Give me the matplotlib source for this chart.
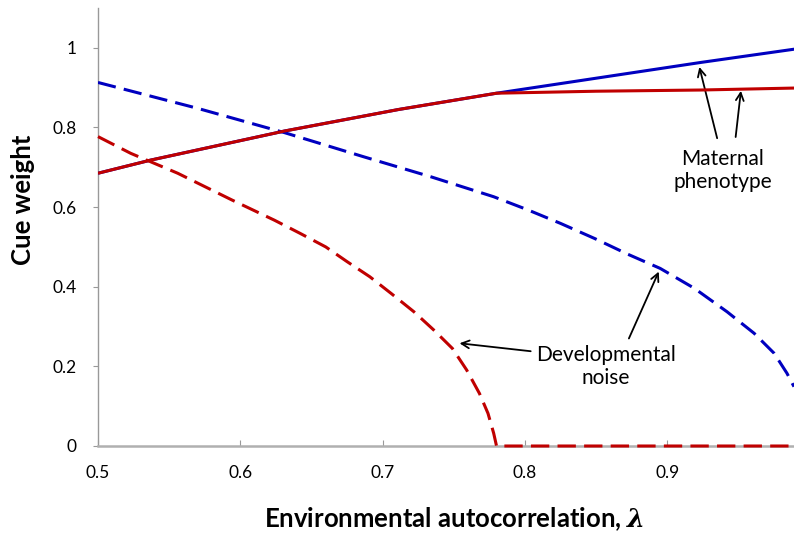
import matplotlib
matplotlib.use("Agg")
import matplotlib.pyplot as plt

plt.rcParams['font.family'] = ['Lato', 'DejaVu Sans']
plt.rcParams['mathtext.fontset'] = 'custom'
plt.rcParams['mathtext.it'] = 'DejaVu Serif:italic:bold'
plt.rcParams['mathtext.rm'] = 'Lato'

# Maternal phenotype cue weight (solid lines)
lam_mat_blue = [0.50, 0.537, 0.631, 0.711, 0.780, 0.923, 0.990]
w_mat_blue = [0.685, 0.718, 0.791, 0.845, 0.886, 0.963, 0.997]
lam_mat_red = [0.50, 0.537, 0.631, 0.711, 0.780, 0.850, 0.923, 0.990]
w_mat_red = [0.685, 0.718, 0.791, 0.845, 0.886, 0.891, 0.894, 0.899]

# Developmental noise cue weight (dashed lines)
lam_dev_blue = [0.50, 0.570, 0.631, 0.687, 0.734, 0.778, 0.802, 0.825, 0.849, 0.872,
                0.895, 0.919, 0.942, 0.961, 0.975, 0.984, 0.989]
w_dev_blue = [0.913, 0.848, 0.787, 0.726, 0.676, 0.626, 0.593, 0.559, 0.521, 0.482,
              0.446, 0.396, 0.337, 0.283, 0.233, 0.183, 0.149]
lam_dev_red = [0.50, 0.523, 0.556, 0.594, 0.624, 0.642, 0.660, 0.675, 0.691, 0.706,
               0.722, 0.736, 0.749, 0.759, 0.768, 0.774, 0.778, 0.780, 0.990]
w_dev_red = [0.777, 0.735, 0.685, 0.618, 0.567, 0.534, 0.500, 0.463, 0.425, 0.383,
             0.337, 0.291, 0.245, 0.191, 0.132, 0.082, 0.032, 0.0, 0.0]

xticks = [0.5, 0.6, 0.7, 0.8, 0.9]
xticklabels = ['0.5', '0.6', '0.7', '0.8', '0.9']
yticks = [0, 0.2, 0.4, 0.6, 0.8, 1.0]
yticklabels = ['0', '0.2', '0.4', '0.6', '0.8', '1']

RED = '#C00000'
BLUE = '#0000C0'
W, H = 794, 535

fig = plt.figure(figsize=(W / 100, H / 100), dpi=100)
ax = fig.add_axes([98 / W, 1 - 446 / H, (794 - 98) / W, (446 - 8) / H])

lw = 2.2
ax.plot(lam_mat_blue, w_mat_blue, color=BLUE, lw=lw, solid_capstyle='butt',
        solid_joinstyle='round', zorder=3)
ax.plot(lam_mat_red, w_mat_red, color=RED, lw=lw, solid_capstyle='butt',
        solid_joinstyle='round', zorder=4)
ax.plot(lam_dev_blue, w_dev_blue, color=BLUE, lw=lw, dashes=(6, 2.7),
        dash_joinstyle='round', zorder=3)
ax.plot(lam_dev_red, w_dev_red, color=RED, lw=lw, dashes=(6, 2.7),
        dash_joinstyle='round', zorder=4, clip_on=False)

ax.set_xlim(0.5, 0.989)
ax.set_ylim(0, 1.1)
ax.set_xticks(xticks)
ax.set_xticklabels(xticklabels)
ax.set_yticks(yticks)
ax.set_yticklabels(yticklabels)

for s in ['top', 'right']:
    ax.spines[s].set_visible(False)
ax.spines['left'].set_color('#999999')
ax.spines['left'].set_linewidth(1.0)
ax.spines['bottom'].set_color('#b0b0b0')
ax.spines['bottom'].set_linewidth(1.8)

ax.tick_params(axis='x', direction='in', length=4, width=0.8, color='#999999',
               labelsize=12.5, pad=14)
ax.tick_params(axis='y', direction='out', length=3.5, width=0.8, color='#999999',
               labelsize=12.5, pad=12)

fig.text(23 / W, 1 - 200 / H, 'Cue weight', rotation=90, ha='center', va='center',
         fontsize=18.5, fontweight='bold')
fig.text(454 / W, 1 - 519 / H, r'Environmental autocorrelation, $\lambda$',
         ha='center', va='center', fontsize=18.5, fontweight='bold')

arrow = dict(arrowstyle='->', color='black', lw=1.3, shrinkA=0, shrinkB=0,
             mutation_scale=14)
ax.text(0.939, 0.692, 'Maternal\nphenotype', ha='center', va='center', fontsize=15,
        linespacing=1.2)
ax.annotate('', xy=(0.9225, 0.952), xytext=(0.935, 0.773), arrowprops=arrow)
ax.annotate('', xy=(0.9517, 0.892), xytext=(0.948, 0.776), arrowprops=arrow)

ax.text(0.857, 0.199, 'Developmental\nnoise', ha='center', va='center', fontsize=15,
        linespacing=1.2)
ax.annotate('', xy=(0.894, 0.438), xytext=(0.873, 0.270), arrowprops=arrow)
ax.annotate('', xy=(0.754, 0.258), xytext=(0.804, 0.238), arrowprops=arrow)

fig.savefig('out.png', dpi=100)
